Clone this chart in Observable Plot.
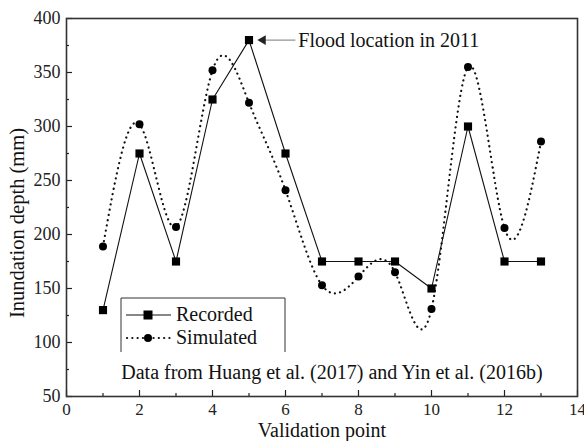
<!DOCTYPE html>
<html>
<head>
<meta charset="utf-8">
<script src="https://cdn.jsdelivr.net/npm/d3@7"></script>
<script src="https://cdn.jsdelivr.net/npm/@observablehq/plot@0.6"></script>
<style>
  body { margin: 0; background: #fff; }
  #chart { position: relative; width: 584px; height: 441px; }
  #chart svg, #chart svg text, #chart svg tspan { font-family: "Liberation Serif", "Times New Roman", serif !important; }
</style>
</head>
<body>
<div id="chart"></div>
<script>
// ---- data ----
const points = [1, 2, 3, 4, 5, 6, 7, 8, 9, 10, 11, 12, 13];
const recorded = [130, 275, 175, 325, 380, 275, 175, 175, 175, 150, 300, 175, 175];
const simulated = [189, 302, 207, 352, 322, 241, 153, 161, 165, 131, 355, 206, 286];
const xTicks = [0, 2, 4, 6, 8, 10, 12, 14];
const xMinor = [1, 3, 5, 7, 9, 11, 13];
const yTicks = [50, 100, 150, 200, 250, 300, 350, 400];
const yMinor = [75, 125, 175, 225, 275, 325, 375];
const annotation = [{x1: 6.27, x2: 5.3, y: 380, text: "Flood location in 2011"}];
const caption = [{x: 1.5, y: 72, text: "Data from Huang et al. (2017) and Yin et al. (2016b)"}];

const rec = points.map((p, i) => ({x: p, y: recorded[i]}));
const sim = points.map((p, i) => ({x: p, y: simulated[i]}));

const W = 584, H = 441;
const mL = 66, mR = 7, mT = 18, mB = 45;
const pxY = 350 / (H - mT - mB);
const pxX = 14 / (W - mL - mR);
const SERIF = "Liberation Serif";

const plot = Plot.plot({
  width: W, height: H,
  marginLeft: mL, marginRight: mR, marginTop: mT, marginBottom: mB,
  x: {domain: [0, 14]},
  y: {domain: [50, 400]},
  style: {fontFamily: SERIF, background: "#fff", overflow: "visible"},
  marks: [
    Plot.ruleX(xTicks, {x: d => d, y1: 50, y2: 50 + 6 * pxY, stroke: "#222", strokeWidth: 1.2}),
    Plot.ruleX(xMinor, {x: d => d, y1: 50, y2: 50 + 3 * pxY, stroke: "#222", strokeWidth: 1.2}),
    Plot.ruleY(yTicks, {y: d => d, x1: 0, x2: 6 * pxX, stroke: "#222", strokeWidth: 1.2}),
    Plot.ruleY(yMinor, {y: d => d, x1: 0, x2: 3 * pxX, stroke: "#222", strokeWidth: 1.2}),
    Plot.axisX(xTicks, {tickSize: 0, tickPadding: 6, fontSize: 17, fontFamily: SERIF, label: null, fill: "#222"}),
    Plot.axisY(yTicks, {tickSize: 0, tickPadding: 6, fontSize: 18, fontFamily: SERIF, label: null, fill: "#222"}),
    Plot.frame({stroke: "#333", strokeWidth: 1.6}),
    Plot.line(sim, {x: "x", y: "y", curve: "natural", stroke: "#111", strokeWidth: 2.2, strokeDasharray: "0.1,5.2", strokeLinecap: "round"}),
    Plot.dot(sim, {x: "x", y: "y", r: 4, fill: "#000", stroke: "none"}),
    Plot.line(rec, {x: "x", y: "y", stroke: "#111", strokeWidth: 1.1}),
    Plot.dot(rec, {x: "x", y: "y", symbol: "square", r: 4.6, fill: "#000", stroke: "none"}),
    Plot.link(annotation, {x1: "x1", y1: "y", x2: "x2", y2: "y", stroke: "#777", strokeWidth: 1}),
    Plot.dot(annotation, {x: "x2", y: "y", symbol: "triangle", r: 3.6, rotate: -90, dx: 3, fill: "#222", stroke: "none"}),
    Plot.text(annotation, {x: "x1", y: "y", text: "text", textAnchor: "start", dx: 3, fontSize: 20, fontFamily: SERIF, fill: "#111"}),
    Plot.text(caption, {x: "x", y: "y", text: "text", textAnchor: "start", fontSize: 20, fontFamily: SERIF, fill: "#111"})
  ]
});

const svg = d3.select(plot);
svg.append("text").attr("x", 322).attr("y", 437).attr("text-anchor", "middle").attr("font-family", SERIF)
  .attr("font-size", 20).attr("fill", "#111").text("Validation point");
svg.append("text").attr("transform", "translate(24,223) rotate(-90)").attr("text-anchor", "middle").attr("font-family", SERIF)
  .attr("font-size", 20.5).attr("fill", "#111").text("Inundation depth (mm)");

const lg = svg.append("g");
lg.append("path").attr("d", "M121,352 V298 H285 V352").attr("fill", "none").attr("stroke", "#333").attr("stroke-width", 1);
lg.append("line").attr("x1", 126).attr("x2", 171).attr("y1", 315).attr("y2", 315).attr("stroke", "#111").attr("stroke-width", 1.1);
lg.append("rect").attr("x", 143.5).attr("y", 310.5).attr("width", 9).attr("height", 9).attr("fill", "#000");
lg.append("line").attr("x1", 127).attr("x2", 171).attr("y1", 338).attr("y2", 338).attr("stroke", "#111")
  .attr("stroke-width", 2.2).attr("stroke-dasharray", "0.1,5.2").attr("stroke-linecap", "round");
lg.append("circle").attr("cx", 148).attr("cy", 338).attr("r", 4).attr("fill", "#000");
lg.append("text").attr("x", 176).attr("y", 321).attr("text-anchor", "start").attr("font-family", SERIF).attr("font-size", 20).attr("fill", "#111").text("Recorded");
lg.append("text").attr("x", 176).attr("y", 344).attr("text-anchor", "start").attr("font-family", SERIF).attr("font-size", 20).attr("fill", "#111").text("Simulated");

document.getElementById("chart").appendChild(plot);
</script>
</body>
</html>
